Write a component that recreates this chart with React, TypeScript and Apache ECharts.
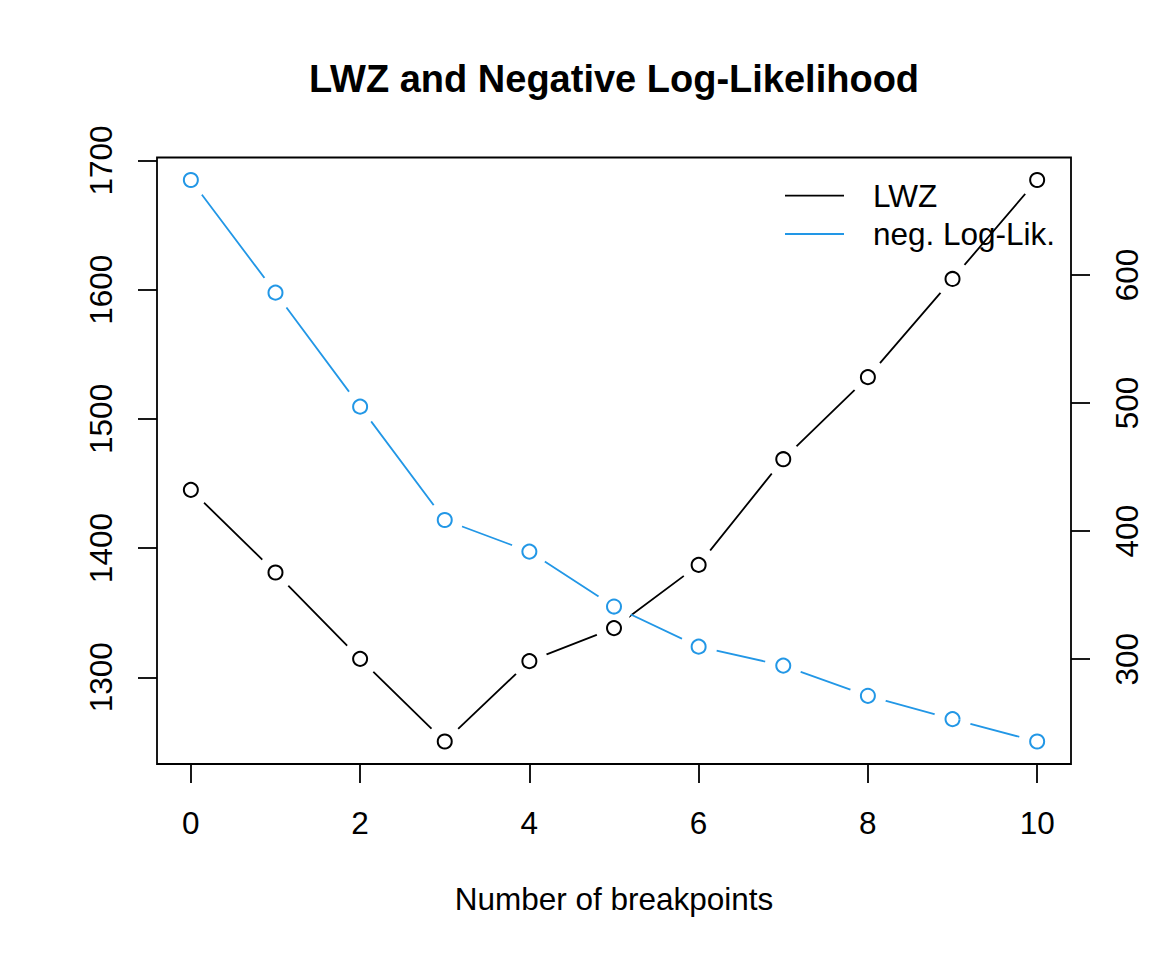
import React, { useEffect, useRef } from "react";
import * as echarts from "echarts";

// ---- data ----
const breakpoints = [0, 1, 2, 3, 4, 5, 6, 7, 8, 9, 10];
const lwzValues = [1445.1, 1381.1, 1314.3, 1250.3, 1312.5, 1338.1, 1387.0, 1468.8, 1532.3, 1608.3, 1684.9];
const negLogLikValues = [674.2, 586.2, 497.2, 408.7, 384.0, 341.1, 309.8, 295.0, 271.4, 253.2, 235.7];

const xTicks = [0, 2, 4, 6, 8, 10];
const leftTicks = [1300, 1400, 1500, 1600, 1700];
const rightTicks = [300, 400, 500, 600];

const seriesNames = ["LWZ", "neg. Log-Lik."];
const seriesColors = ["#000000", "#2297E6"];
const titleText = "LWZ and Negative Log-Likelihood";
const xAxisTitle = "Number of breakpoints";

const FONT = "'Liberation Sans', Arial, Helvetica, sans-serif";
const BASE = 31.5;

function extendRange(vals: number[], f = 0.04): [number, number] {
  const mn = Math.min(...vals);
  const mx = Math.max(...vals);
  const d = (mx - mn) * f;
  return [mn - d, mx + d];
}

export default function App() {
  const ref = useRef<HTMLDivElement>(null);

  useEffect(() => {
    document.body.style.margin = "0";
    if (!ref.current) return;
    const chart = echarts.init(ref.current, null, { renderer: "svg" });

    const xr = extendRange(breakpoints);
    const lr = extendRange(lwzValues);
    const rr = extendRange(negLogLikValues);

    const gridLeft = 157;
    const gridTop = 157.5;
    const gridRight = 1071;
    const gridBottom = 764;

    const lwzData = breakpoints.map((x, i) => [x, lwzValues[i]]);
    const nllData = breakpoints.map((x, i) => [x, negLogLikValues[i]]);

    const tickStyle = { color: "#000", width: 1.8 };
    const labelStyle = { color: "#000", fontSize: BASE, fontFamily: FONT };

    const legendX1 = 785;
    const legendX2 = 844;
    const legendTextX = 873;
    const legendY = [195.7, 234];

    const option: any = {
      animation: false,
      backgroundColor: "#ffffff",
      title: {
        text: titleText,
        left: (gridLeft + gridRight) / 2,
        top: 78.6,
        padding: 0,
        textAlign: "center",
        textVerticalAlign: "middle",
        textStyle: { color: "#000", fontSize: 38, fontWeight: "bold", fontFamily: FONT },
      },
      grid: {
        left: gridLeft,
        top: gridTop,
        width: gridRight - gridLeft,
        height: gridBottom - gridTop,
        show: true,
        borderColor: "#000",
        borderWidth: 1.8,
        backgroundColor: "transparent",
        containLabel: false,
      },
      xAxis: {
        type: "value",
        position: "bottom",
        min: xr[0],
        max: xr[1],
        name: xAxisTitle,
        nameLocation: "middle",
        nameGap: 119,
        nameTextStyle: { color: "#000", fontSize: BASE, fontFamily: FONT },
        axisLine: { show: false, onZero: false },
        splitLine: { show: false },
        axisTick: { show: true, inside: false, length: 19, lineStyle: tickStyle, customValues: xTicks },
        axisLabel: { show: true, margin: 43, ...labelStyle, customValues: xTicks, formatter: (v: number) => String(v) },
      },
      yAxis: [
        {
          type: "value",
          position: "left",
          min: lr[0],
          max: lr[1],
          axisLine: { show: false, onZero: false },
          splitLine: { show: false },
          axisTick: { show: true, inside: false, length: 19, lineStyle: tickStyle, customValues: leftTicks },
          axisLabel: { show: true, rotate: 90, margin: 40.5, ...labelStyle, customValues: leftTicks, formatter: (v: number) => String(v) },
        },
        {
          type: "value",
          position: "right",
          min: rr[0],
          max: rr[1],
          axisLine: { show: false, onZero: false },
          splitLine: { show: false },
          axisTick: { show: true, inside: false, length: 19, lineStyle: tickStyle, customValues: rightTicks },
          axisLabel: { show: true, rotate: 90, margin: 40, ...labelStyle, customValues: rightTicks, formatter: (v: number) => String(v) },
        },
      ],
      series: [
        {
          type: "line",
          name: seriesNames[0],
          xAxisIndex: 0,
          yAxisIndex: 0,
          data: lwzData,
          silent: true,
          z: 2,
          lineStyle: { color: seriesColors[0], width: 1.8 },
          symbol: "circle",
          symbolSize: 37,
          showAllSymbol: true,
          itemStyle: { color: "#ffffff", borderWidth: 0 },
          emphasis: { disabled: true },
        },
        {
          type: "line",
          name: seriesNames[1],
          xAxisIndex: 0,
          yAxisIndex: 1,
          data: nllData,
          silent: true,
          z: 3,
          lineStyle: { color: seriesColors[1], width: 1.8 },
          symbol: "circle",
          symbolSize: 37,
          showAllSymbol: true,
          itemStyle: { color: "#ffffff", borderWidth: 0 },
          emphasis: { disabled: true },
        },
        {
          type: "scatter",
          name: seriesNames[0] + " points",
          xAxisIndex: 0,
          yAxisIndex: 0,
          data: lwzData,
          silent: true,
          z: 5,
          symbol: "circle",
          symbolSize: 14,
          itemStyle: { color: "#ffffff", borderColor: seriesColors[0], borderWidth: 2, opacity: 1 },
          emphasis: { disabled: true },
        },
        {
          type: "scatter",
          name: seriesNames[1] + " points",
          xAxisIndex: 0,
          yAxisIndex: 1,
          data: nllData,
          silent: true,
          z: 5,
          symbol: "circle",
          symbolSize: 14,
          itemStyle: { color: "#ffffff", borderColor: seriesColors[1], borderWidth: 2, opacity: 1 },
          emphasis: { disabled: true },
        },
      ],
      graphic: {
        elements: seriesNames.flatMap((name, i) => [
          {
            type: "line",
            z: 10,
            shape: { x1: legendX1, y1: legendY[i], x2: legendX2, y2: legendY[i] },
            style: { stroke: seriesColors[i], lineWidth: 1.8 },
          },
          {
            type: "text",
            z: 10,
            x: legendTextX,
            y: legendY[i],
            style: {
              text: name,
              fill: "#000",
              font: `${BASE}px ${FONT}`,
              textAlign: "left",
              textVerticalAlign: "middle",
            },
          },
        ]),
      },
    };

    chart.setOption(option);
    return () => chart.dispose();
  }, []);

  return <div ref={ref} style={{ width: 1152, height: 960 }} />;
}
